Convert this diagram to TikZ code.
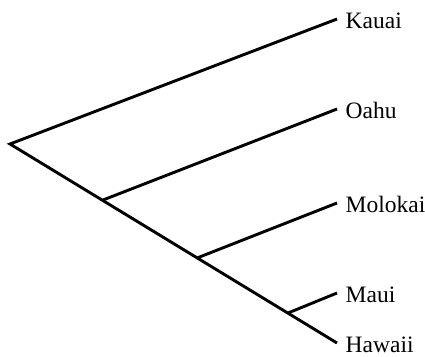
\documentclass[tikz,border=0pt]{standalone}
\usepackage{fontspec}
\setmainfont{Liberation Serif}
\usepackage{tikz}
\usetikzlibrary{positioning}

\begin{document}
\begin{tikzpicture}[x=1pt,y=-1pt]
  \tikzstyle{branch}=[line width=2.9pt]
  \tikzstyle{taxon}=[inner sep=0pt,yshift=-1.5pt,font=\fontsize{23.5}{28}\selectfont]
  \useasboundingbox (0,0) rectangle (425,356);
  % splits
  \coordinate (root) at (10,144);
  \coordinate (n1) at (103,200);
  \coordinate (n2) at (197,258);
  \coordinate (n3) at (288,313);
  % tips
  \coordinate (tKauai) at (337,19);
  \coordinate (tOahu) at (337,109);
  \coordinate (tMolokai) at (337,203);
  \coordinate (tMaui) at (337,293);
  \coordinate (tHawaii) at (337,343);
  \node[taxon,right=8.5pt of tKauai] (kauai) {Kauai};
  \node[taxon,right=8.5pt of tOahu] (oahu) {Oahu};
  \node[taxon,right=8.5pt of tMolokai] (molokai) {Molokai};
  \node[taxon,right=8.5pt of tMaui] (maui) {Maui};
  \node[taxon,right=8.5pt of tHawaii] (hawaii) {Hawaii};
  \draw[branch] (tKauai) -- (root) -- (tHawaii);
  \draw[branch] (n1) -- (tOahu);
  \draw[branch] (n2) -- (tMolokai);
  \draw[branch] (n3) -- (tMaui);
\end{tikzpicture}
\end{document}
